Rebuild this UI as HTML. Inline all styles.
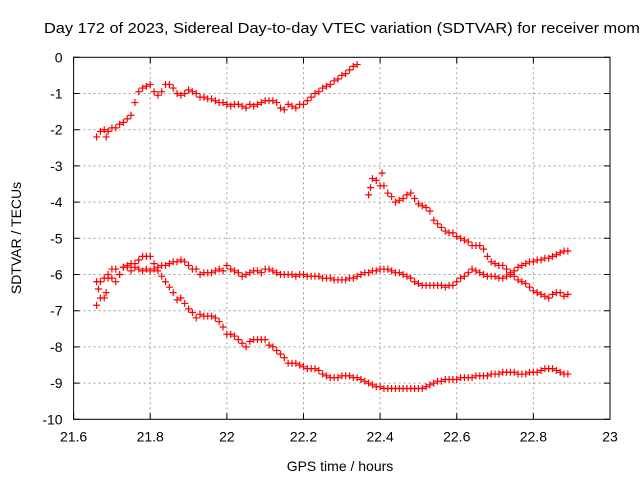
<!DOCTYPE html>
<html><head><meta charset="utf-8"><style>
body{margin:0;background:#fff;}
svg{display:block;font-family:"Liberation Sans",sans-serif;}
</style></head><body>
<svg id="chart" width="640" height="480" viewBox="0 0 640 480" xmlns="http://www.w3.org/2000/svg">
<rect width="640" height="480" fill="#fff"/>
<text x="44" y="33" font-size="15" textLength="605" lengthAdjust="spacingAndGlyphs" fill="#000">Day 172 of 2023, Sidereal Day-to-day VTEC variation (SDTVAR) for receiver momo</text>
<text x="340" y="471" font-size="14" text-anchor="middle">GPS time / hours</text>
<text x="0" y="0" font-size="14" text-anchor="middle" transform="translate(21,238) rotate(-90)">SDTVAR / TECUs</text>
<g id="grid"></g><g id="ticks"></g><g id="marks"></g>
<rect x="73.6" y="57.3" width="536.4" height="362" fill="none" stroke="#000" stroke-width="1"/>
</svg>
<script>
const xTicks=[21.6,21.8,22,22.2,22.4,22.6,22.8,23];
const xTickLabels=["21.6","21.8","22","22.2","22.4","22.6","22.8","23"];
const yTicks=[0,-1,-2,-3,-4,-5,-6,-7,-8,-9,-10];
const yTickLabels=["0","-1","-2","-3","-4","-5","-6","-7","-8","-9","-10"];
const aX=[21.66,21.67,21.68,21.685,21.69,21.70,21.71,21.72,21.73,21.74,21.75,21.76,21.77,21.78,21.79,21.80,21.81,21.82,21.83,21.84,21.85,21.86,21.87,21.88,21.89,21.90,21.91,21.92,21.93,21.94,21.95,21.96,21.97,21.98,21.99,22.00,22.01,22.02,22.03,22.04,22.05,22.06,22.07,22.08,22.09,22.10,22.11,22.12,22.13,22.14,22.15,22.16,22.17,22.18,22.19,22.20,22.21,22.22,22.23,22.24,22.25,22.26,22.27,22.28,22.29,22.30,22.31,22.32,22.33,22.34];
const aY=[-2.2,-2.05,-2.0,-2.2,-2.05,-1.95,-1.95,-1.85,-1.8,-1.7,-1.6,-1.25,-0.95,-0.85,-0.8,-0.75,-0.95,-1.05,-0.95,-0.75,-0.75,-0.85,-1.0,-1.05,-1.0,-0.9,-0.95,-1.0,-1.1,-1.1,-1.15,-1.15,-1.2,-1.25,-1.25,-1.3,-1.35,-1.3,-1.3,-1.35,-1.4,-1.3,-1.35,-1.3,-1.25,-1.2,-1.2,-1.2,-1.25,-1.4,-1.45,-1.3,-1.35,-1.4,-1.3,-1.3,-1.2,-1.1,-1.0,-0.95,-0.85,-0.8,-0.75,-0.65,-0.6,-0.5,-0.45,-0.35,-0.25,-0.2];
const bX=[21.66,21.665,21.67,21.68,21.685,21.69,21.70,21.71,21.72,21.73,21.74,21.75,21.76,21.77,21.78,21.79,21.80,21.81,21.82,21.83,21.84,21.85,21.86,21.87,21.88,21.89,21.90,21.91,21.92,21.93,21.94,21.95,21.96,21.97,21.98,21.99,22.00,22.01,22.02,22.03,22.04,22.05,22.06,22.07,22.08,22.09,22.10,22.11,22.12,22.13,22.14,22.15,22.16,22.17,22.18,22.19,22.20,22.21,22.22,22.23,22.24,22.25,22.26,22.27,22.28,22.29,22.30,22.31,22.32,22.33,22.34,22.35,22.36,22.37,22.38,22.39,22.40,22.41,22.42,22.43,22.44,22.45,22.46,22.47,22.48,22.49,22.50,22.51,22.52,22.53,22.54,22.55,22.56,22.57,22.58,22.59,22.60,22.61,22.62,22.63,22.64,22.65,22.66,22.67,22.68,22.69,22.70,22.71,22.72,22.73,22.74,22.75,22.76,22.77,22.78,22.79,22.80,22.81,22.82,22.83,22.84,22.85,22.86,22.87,22.88,22.89];
const bY=[-6.85,-6.4,-6.65,-6.65,-6.5,-6.1,-5.85,-5.85,-6.0,-5.8,-5.75,-5.7,-5.7,-5.6,-5.5,-5.5,-5.5,-5.7,-5.9,-6.05,-6.2,-6.35,-6.5,-6.7,-6.65,-6.8,-6.95,-7.05,-7.2,-7.1,-7.15,-7.15,-7.15,-7.2,-7.3,-7.45,-7.65,-7.65,-7.7,-7.8,-7.9,-8.0,-7.85,-7.8,-7.8,-7.8,-7.8,-7.95,-8.0,-8.1,-8.2,-8.3,-8.45,-8.45,-8.45,-8.5,-8.55,-8.6,-8.6,-8.6,-8.65,-8.75,-8.8,-8.85,-8.85,-8.85,-8.8,-8.8,-8.8,-8.85,-8.85,-8.9,-8.95,-9.0,-9.05,-9.1,-9.1,-9.15,-9.15,-9.15,-9.15,-9.15,-9.15,-9.15,-9.15,-9.15,-9.15,-9.15,-9.1,-9.05,-9.0,-8.95,-8.95,-8.9,-8.9,-8.9,-8.9,-8.85,-8.85,-8.85,-8.85,-8.8,-8.8,-8.8,-8.8,-8.75,-8.75,-8.75,-8.7,-8.7,-8.7,-8.7,-8.75,-8.75,-8.75,-8.7,-8.7,-8.7,-8.65,-8.6,-8.6,-8.6,-8.65,-8.7,-8.75,-8.75,-8.75,-8.75];
const cX=[21.66,21.67,21.68,21.69,21.70,21.71,21.72,21.73,21.74,21.75,21.76,21.77,21.78,21.79,21.80,21.81,21.82,21.83,21.84,21.85,21.86,21.87,21.88,21.89,21.90,21.91,21.92,21.93,21.94,21.95,21.96,21.97,21.98,21.99,22.00,22.01,22.02,22.03,22.04,22.05,22.06,22.07,22.08,22.09,22.10,22.11,22.12,22.13,22.14,22.15,22.16,22.17,22.18,22.19,22.20,22.21,22.22,22.23,22.24,22.25,22.26,22.27,22.28,22.29,22.30,22.31,22.32,22.33,22.34,22.35,22.36,22.37,22.38,22.39,22.40,22.41,22.42,22.43,22.44,22.45,22.46,22.47,22.48,22.49,22.50,22.51,22.52,22.53,22.54,22.55,22.56,22.57,22.58,22.59,22.60,22.61,22.62,22.63,22.64,22.65,22.66,22.67,22.68,22.69,22.70,22.71,22.72,22.73,22.74,22.75,22.76,22.77,22.78,22.79,22.80,22.81,22.82,22.83,22.84,22.85,22.86,22.87,22.88,22.89];
const cY=[-6.2,-6.2,-6.1,-6.0,-6.1,-6.2,-6.0,-5.8,-5.8,-5.9,-5.8,-5.85,-5.9,-5.85,-5.9,-5.85,-5.8,-5.75,-5.75,-5.7,-5.65,-5.65,-5.6,-5.65,-5.75,-5.85,-5.85,-6.0,-5.95,-5.95,-5.95,-5.9,-5.85,-5.9,-5.75,-5.85,-5.9,-5.95,-6.05,-6.0,-5.95,-5.9,-5.9,-5.95,-5.85,-5.85,-5.9,-5.95,-6.0,-6.0,-6.0,-6.0,-6.05,-6.0,-6.0,-6.05,-6.05,-6.05,-6.05,-6.1,-6.1,-6.1,-6.15,-6.15,-6.15,-6.15,-6.1,-6.1,-6.05,-6.0,-5.95,-5.95,-5.9,-5.9,-5.85,-5.85,-5.85,-5.9,-5.95,-5.95,-6.0,-6.05,-6.1,-6.2,-6.25,-6.3,-6.3,-6.3,-6.3,-6.3,-6.3,-6.35,-6.3,-6.3,-6.2,-6.1,-6.05,-5.95,-5.85,-5.9,-5.95,-6.0,-6.05,-6.05,-6.05,-6.1,-6.1,-6.05,-5.95,-5.9,-5.8,-5.75,-5.7,-5.65,-5.65,-5.6,-5.6,-5.55,-5.55,-5.5,-5.45,-5.4,-5.35,-5.35];
const dX=[22.37,22.375,22.38,22.39,22.40,22.405,22.41,22.42,22.43,22.44,22.45,22.46,22.47,22.48,22.49,22.50,22.51,22.52,22.53,22.54,22.55,22.56,22.57,22.58,22.59,22.60,22.61,22.62,22.63,22.64,22.65,22.66,22.67,22.68,22.69,22.70,22.71,22.72,22.73,22.74,22.75,22.76,22.77,22.78,22.79,22.80,22.81,22.82,22.83,22.84,22.85,22.86,22.87,22.88,22.89];
const dY=[-3.8,-3.6,-3.35,-3.4,-3.55,-3.2,-3.55,-3.75,-3.85,-4.0,-3.95,-3.9,-3.8,-3.75,-3.9,-4.05,-4.1,-4.15,-4.25,-4.5,-4.6,-4.7,-4.8,-4.85,-4.85,-4.95,-5.0,-5.05,-5.1,-5.2,-5.2,-5.2,-5.3,-5.5,-5.65,-5.7,-5.75,-5.75,-5.85,-6.0,-6.05,-6.15,-6.2,-6.25,-6.35,-6.45,-6.5,-6.55,-6.6,-6.65,-6.55,-6.5,-6.5,-6.6,-6.55];

const NS="http://www.w3.org/2000/svg";
const X0=73.6,X1=610,Y0=57.3,Y1=419.3;
function sx(v){return X0+(v-21.6)/(23-21.6)*(X1-X0);}
function sy(v){return Y0+(0-v)/10*(Y1-Y0);}
function mk(tag,attrs,parent){const e=document.createElementNS(NS,tag);for(const k in attrs)e.setAttribute(k,attrs[k]);parent.appendChild(e);return e;}
const grid=document.getElementById('grid'),ticks=document.getElementById('ticks'),marks=document.getElementById('marks');
xTicks.forEach((t,i)=>{
  const x=sx(t);
  if(i>0&&i<xTicks.length-1){
    const g=mk('line',{x1:x,x2:x,y1:Y0,y2:Y1,stroke:'#a0a0a0','stroke-dasharray':'2,3'},grid);
    
    
  }
  const t1=mk('path',{d:`M${x},${Y1}v-6M${x},${Y0}v6`,stroke:'#000'},ticks);
  
  
  const l=mk('text',{x:x,y:Y1+22,'font-size':14,'text-anchor':'middle'},ticks);
  l.textContent=xTickLabels[i];
  
  
});
yTicks.forEach((t,i)=>{
  const y=sy(t);
  if(i>0&&i<yTicks.length-1){
    const g=mk('line',{x1:X0,x2:X1,y1:y,y2:y,stroke:'#a0a0a0','stroke-dasharray':'2,3'},grid);
    
    
  }
  const t1=mk('path',{d:`M${X0},${y}h6M${X1},${y}h-6`,stroke:'#000'},ticks);
  
  
  const l=mk('text',{x:X0-11,y:y+5,'font-size':14,'text-anchor':'end'},ticks);
  l.textContent=yTickLabels[i];
  
  
});
function series(xs,ys,name){
  const g=mk('g',{},marks);
  
  
  xs.forEach((xv,i)=>{
    const x=sx(xv),y=sy(ys[i]);
    const p=mk('path',{d:`M${x-3.5},${y}h7M${x},${y-3.5}v7`,stroke:'#ff0000','stroke-width':1.2},g);
    
    
  });
}
series(aX,aY,'series-a');
series(bX,bY,'series-b');
series(cX,cY,'series-c');
series(dX,dY,'series-d');
</script>
</body></html>
